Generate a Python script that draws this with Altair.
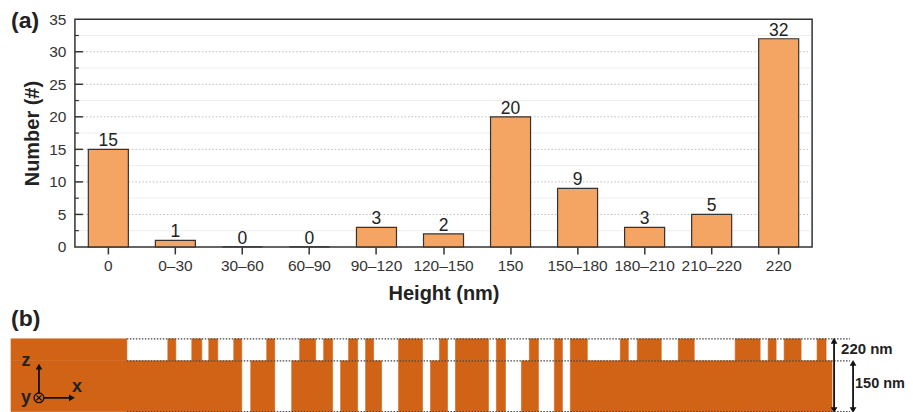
import altair as alt
import pandas as pd

FONT = "Liberation Sans"

# ---------- panel (a) values ----------
categories = ["0", "0–30", "30–60", "60–90", "90–120", "120–150", "150", "150–180", "180–210", "210–220", "220"]
counts = [15, 1, 0, 0, 3, 2, 20, 9, 3, 5, 32]
major_levels = [5, 10, 15, 20, 25, 30]
minor_levels = [2.5, 7.5, 12.5, 17.5, 22.5, 27.5, 32.5]
y_tick_labels = [0, 5, 10, 15, 20, 25, 30, 35]

# ---------- panel (b) values (lateral position, height in nm) ----------
lower_starts = [10, 250, 291, 340, 365, 398, 430, 455, 496, 521, 554, 570]
lower_ends = [241, 274, 332, 357, 381, 422, 447, 488, 505, 538, 562, 832]
upper_starts = [10, 167, 191, 208, 233, 266, 299, 323, 348, 365, 398, 439, 455, 496, 529, 554, 570,
                620, 637, 678, 735, 768, 784, 817]
upper_ends = [126, 175, 201, 217, 241, 274, 315, 332, 357, 373, 422, 447, 488, 505, 538, 562, 587,
              628, 661, 694, 760, 776, 801, 826]
dotted_levels = [0, 150, 220]

bars = pd.DataFrame({"cat": categories, "n": counts})
major = pd.DataFrame({"v": major_levels})
minor = pd.DataFrame({"v": minor_levels})

yscale = alt.Scale(domain=[0, 35])
xenc = alt.X("cat:N", sort=categories, title="Height (nm)",
             scale=alt.Scale(paddingInner=0.403, paddingOuter=0.2),
             axis=alt.Axis(labelAngle=0, labelFont=FONT, labelFontSize=15.5, labelColor="#333333",
                           titleFont=FONT, titleFontSize=20, titleFontWeight="bold", titleColor="#222222",
                           labelPadding=5, titlePadding=9, tickSize=7, tickColor="#333333", tickWidth=1.5,
                           domain=False, grid=False, labelOverlap=False))
yaxis = alt.Axis(values=y_tick_labels, ticks=False, domain=False, grid=False, labelOverlap=False,
                 labelFont=FONT, labelFontSize=15.5, labelColor="#333333", labelPadding=9,
                 title="Number (#)", titleFont=FONT, titleFontSize=20, titleFontWeight="bold",
                 titleColor="#222222", titlePadding=6)
yenc = alt.Y("n:Q", scale=yscale, axis=yaxis)
ylev = alt.Y("v:Q", scale=yscale, axis=yaxis)

bar_layer = alt.Chart(bars).mark_bar(color="#F4A564", stroke="#333333", strokeWidth=1.2).encode(x=xenc, y=yenc)
minor_grid = alt.Chart(minor).mark_rule(color="#eeeeee", strokeWidth=1).encode(
    y=ylev, x=alt.value(4), x2=alt.value(737))
major_grid = alt.Chart(major).mark_rule(color="#bdbdbd", strokeWidth=1, strokeDash=[1.5, 2]).encode(
    y=ylev, x=alt.value(8), x2=alt.value(736))
bar_labels = alt.Chart(bars).mark_text(font=FONT, fontSize=17.5, color="#222222", baseline="bottom", dy=1).encode(
    x=alt.X("cat:N", sort=categories), y=yenc, text="n:Q")
major_ticks = alt.Chart(major).mark_rule(color="#333333", strokeWidth=1.5).encode(
    y=ylev, x=alt.value(0), x2=alt.value(8))
minor_ticks = alt.Chart(minor).mark_rule(color="#333333", strokeWidth=1.2).encode(
    y=ylev, x=alt.value(0), x2=alt.value(4))
panel_a_label = alt.Chart(pd.DataFrame({"t": ["(a)"]})).mark_text(
    font=FONT, fontSize=23, fontWeight="bold", color="#222222", align="left", baseline="middle"
).encode(x=alt.value(-64), y=alt.value(1.5), text="t:N")

panel_a = alt.layer(minor_grid, major_grid, bar_layer, bar_labels, major_ticks, minor_ticks, panel_a_label).properties(
    width=738, height=228, view=alt.ViewBackground(stroke="#333333", strokeWidth=1.5))

# ---------- panel (b) ----------
px = alt.Scale(domain=[10, 905], range=[-64, 831])
nm = alt.Scale(domain=[0, 150, 220, 310], range=[105, 54, 32, 0])
X0 = alt.X("a:Q", scale=px, axis=None)
X2 = alt.X2("b:Q")
Y0 = alt.Y("lo:Q", scale=nm, axis=None)
Y2 = alt.Y2("hi:Q")

lower = pd.DataFrame({"a": lower_starts, "b": lower_ends, "lo": 0, "hi": 150})
upper = pd.DataFrame({"a": upper_starts, "b": upper_ends, "lo": 150, "hi": 220})
solid = pd.concat([lower, upper])
rects = alt.Chart(solid).mark_rect(color="#D06316", stroke="#D06316", strokeWidth=0.6).encode(x=X0, x2=X2, y=Y0, y2=Y2)

dots = pd.DataFrame({"a": 126, "b": 850, "lo": dotted_levels})
dotted = alt.Chart(dots).mark_rule(color="#444444", strokeWidth=1.4, strokeDash=[1.5, 1.5]).encode(x=X0, x2=X2, y=Y0)

arrow_shafts = pd.DataFrame({
    "a": [834, 853, 38, 38], "b": [834, 853, 38, 72],
    "lo": [2, 2, 41, 41], "hi": [218, 146, 138, 41]})
shafts = alt.Chart(arrow_shafts).mark_rule(color="#111111", strokeWidth=1.8).encode(x=X0, x2=X2, y=Y0, y2=Y2)

head_up = pd.DataFrame({"a": [834, 853, 38], "lo": [214, 144, 133]})
head_down = pd.DataFrame({"a": [834, 853], "lo": [5, 5]})
head_right = pd.DataFrame({"a": [71], "lo": [41]})
ups = alt.Chart(head_up).mark_point(shape="triangle-up", filled=True, color="#111111", size=45, opacity=1).encode(x=X0, y=Y0)
downs = alt.Chart(head_down).mark_point(shape="triangle-down", filled=True, color="#111111", size=45, opacity=1).encode(x=X0, y=Y0)
rights = alt.Chart(head_right).mark_point(shape="triangle-right", filled=True, color="#111111", size=45, opacity=1).encode(x=X0, y=Y0)

origin = pd.DataFrame({"a": [38], "lo": [41]})
circ = alt.Chart(origin).mark_point(shape="circle", filled=True, fill="#D06316", stroke="#111111", strokeWidth=1.3,
                                    size=95, opacity=1).encode(x=X0, y=Y0)
cross = alt.Chart(origin).mark_point(shape="M-1,-1L1,1M-1,1L1,-1", stroke="#111111", strokeWidth=1.2, size=24,
                                     opacity=1).encode(x=X0, y=Y0)

text_220 = alt.Chart(pd.DataFrame({"a": [841], "lo": [188], "t": ["220 nm"]})).mark_text(
    font=FONT, fontSize=15, fontWeight="bold", color="#222222", align="left", baseline="middle"
).encode(x=X0, y=Y0, text="t:N")
text_150 = alt.Chart(pd.DataFrame({"a": [855], "lo": [82], "t": ["150 nm"]})).mark_text(
    font=FONT, fontSize=14.5, fontWeight="bold", color="#222222", align="left", baseline="middle"
).encode(x=X0, y=Y0, text="t:N")
axes_labels = pd.DataFrame({"a": [25, 76, 25], "lo": [150, 74, 42], "t": ["z", "x", "y"]})
axes_text = alt.Chart(axes_labels).mark_text(font=FONT, fontSize=18, fontWeight="bold", color="#222222",
                                             baseline="middle").encode(x=X0, y=Y0, text="t:N")
b_label = alt.Chart(pd.DataFrame({"a": [10], "lo": [276], "t": ["(b)"]})).mark_text(
    font=FONT, fontSize=23, fontWeight="bold", color="#222222", align="left", baseline="middle"
).encode(x=X0, y=Y0, text="t:N")

panel_b = alt.layer(rects, dotted, shafts, ups, downs, rights, circ, cross, text_220, text_150, axes_text, b_label).properties(
    width=831, height=105, view=alt.ViewBackground(stroke=None))

chart = alt.concat(panel_a, panel_b, columns=1, spacing=2, bounds="full",
                   padding={"left": 2, "top": 0, "right": 0, "bottom": 0},
                   background="white").resolve_scale(x="independent", y="independent")

chart.save("out.html", embed_options={"renderer": "svg", "actions": False})
